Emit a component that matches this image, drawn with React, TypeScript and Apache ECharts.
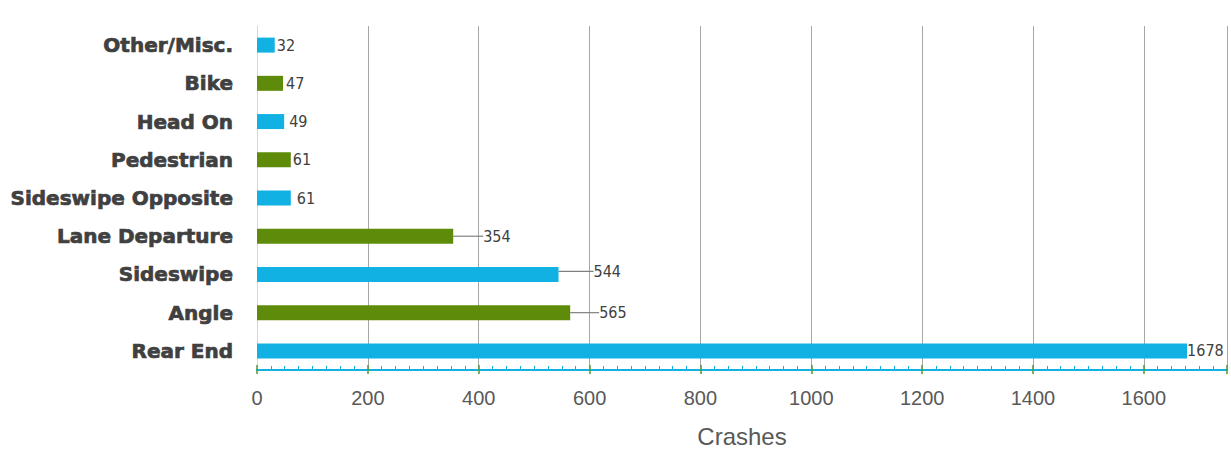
import React, { useEffect, useRef } from "react";
import * as echarts from "echarts";

// Crash types, listed top to bottom
const categories = [
  "Other/Misc.",
  "Bike",
  "Head On",
  "Pedestrian",
  "Sideswipe Opposite",
  "Lane Departure",
  "Sideswipe",
  "Angle",
  "Rear End",
];
const crashes = [32, 47, 49, 61, 61, 354, 544, 565, 1678];
const barColors = [
  "#12b1e3",
  "#5e8c0a",
  "#12b1e3",
  "#5e8c0a",
  "#12b1e3",
  "#5e8c0a",
  "#12b1e3",
  "#5e8c0a",
  "#12b1e3",
];
// Gap between bar end and its value label (px)
const labelGap = [2, 3, 5, 2, 6, 0, 0, 0, 0];
// Labels pulled away from the bar, joined back with a leader line (px)
const labelShift = [0, 0, 0, 0, 0, 30, 35, 29, 0];
const labelLift = [0, 0, 0, 0, 0, 0, -3, 0, 0];
const xTicks = { min: 0, max: 1750, interval: 200 };

const BLUE = "#12b1e3";
const GREEN = "#4f9a3a";

export default function App() {
  const ref = useRef<HTMLDivElement>(null);

  useEffect(() => {
    if (!ref.current) return;
    const chart = echarts.init(ref.current, null, { renderer: "svg" });
    chart.setOption({
      animation: false,
      grid: { left: 257, right: 4, top: 26, bottom: 80, outerBoundsMode: "none" },
      xAxis: [
        {
          type: "value",
          min: xTicks.min,
          max: xTicks.max,
          interval: xTicks.interval,
          name: "Crashes",
          nameLocation: "middle",
          nameGap: 54,
          nameTextStyle: {
            fontFamily: "Liberation Sans, Arial, sans-serif",
            fontSize: 24,
            color: "#595959",
          },
          axisLine: { show: true, lineStyle: { color: BLUE, width: 2 } },
          axisTick: { show: true, inside: true, length: 5, lineStyle: { color: GREEN, width: 1.5 } },
          minorTick: { show: true, splitNumber: 8, length: 4, lineStyle: { color: BLUE, width: 1 } },
          axisLabel: {
            margin: 18,
            fontFamily: "Liberation Sans, Arial, sans-serif",
            fontSize: 20,
            color: "#595959",
            showMaxLabel: false,
            formatter: (v: number) => String(v),
          },
          splitLine: { show: true, lineStyle: { color: "#a6a6a6", width: 1 } },
        },
        {
          type: "value",
          position: "bottom",
          min: xTicks.min,
          max: xTicks.max,
          interval: xTicks.interval,
          axisLine: { show: false },
          axisTick: { show: true, inside: false, length: 4, lineStyle: { color: GREEN, width: 1.5 } },
          axisLabel: { show: false },
          splitLine: { show: false },
        },
      ],
      yAxis: {
        type: "category",
        data: categories,
        inverse: true,
        axisLine: { show: true, lineStyle: { color: "#d9d4e3", width: 1 } },
        axisTick: { show: false },
        axisLabel: {
          margin: 24,
          fontFamily: "DejaVu Sans, sans-serif",
          fontWeight: "bold",
          fontSize: 20,
          color: "#404040",
          textBorderColor: "#404040",
          textBorderWidth: 0.7,
        },
      },
      series: [
        {
          type: "bar",
          xAxisIndex: 0,
          barWidth: 15,
          data: crashes.map((v, i) => ({
            value: v,
            itemStyle: { color: barColors[i] },
            label: { distance: labelGap[i] },
            labelLine: { show: labelShift[i] > 0 },
          })),
          label: {
            show: true,
            position: "right",
            fontFamily: "DejaVu Sans Condensed, sans-serif",
            fontSize: 16,
            color: "#404040",
          },
          labelLine: { show: true, lineStyle: { color: "#808080", width: 1.2 } },
          labelLayout: (p: any) => ({ dx: labelShift[p.dataIndex], dy: labelLift[p.dataIndex] }),
        },
      ],
    });
    return () => chart.dispose();
  }, []);

  return (
    <div
      ref={ref}
      style={{ position: "fixed", left: 0, top: 0, width: 1231, height: 450, background: "#fff" }}
    />
  );
}
